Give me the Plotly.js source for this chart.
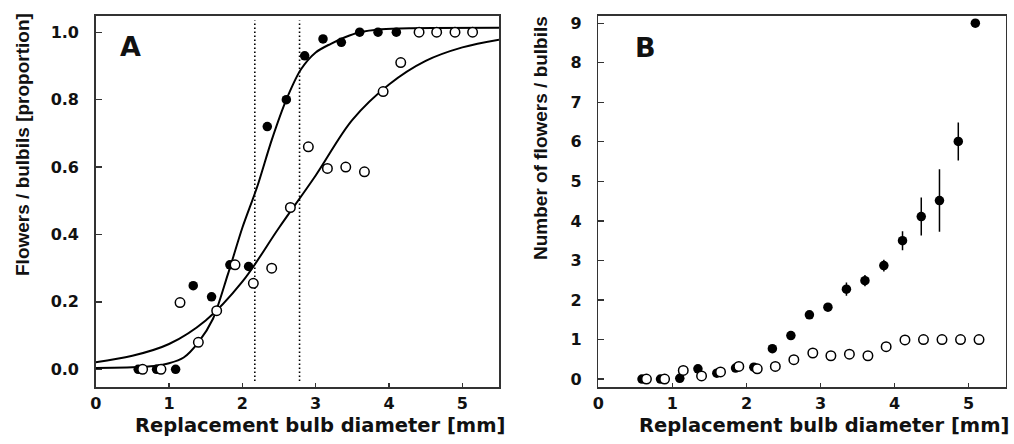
<!DOCTYPE html>
<html>
<head>
<meta charset="utf-8">
<script src="https://cdn.plot.ly/plotly-3.0.1.min.js"></script>
<style>
  html, body { margin: 0; padding: 0; background: #fff; }
  #chart { width: 1014px; height: 444px; }
</style>
</head>
<body>
<div id="chart"></div>
<script>
// ---------- Panel A: proportions ----------
const flowerA_x = [0.58, 0.83, 1.09, 1.33, 1.58, 1.83, 2.085, 2.34, 2.60, 2.85, 3.10, 3.35, 3.60, 3.85, 4.10];
const flowerA_y = [0, 0, 0, 0.248, 0.215, 0.31, 0.305, 0.72, 0.80, 0.93, 0.98, 0.97, 1.0, 1.0, 1.0];
const bulbilA_x = [0.64, 0.89, 1.15, 1.40, 1.65, 1.90, 2.15, 2.40, 2.655, 2.90, 3.16, 3.41, 3.665, 3.92, 4.16, 4.41, 4.65, 4.90, 5.14];
const bulbilA_y = [0, 0, 0.198, 0.08, 0.174, 0.31, 0.255, 0.30, 0.48, 0.66, 0.596, 0.60, 0.586, 0.824, 0.91, 1, 1, 1, 1];

// fitted curves
const fitFlower_x = [0, 0.5, 0.8, 1.0, 1.2, 1.4, 1.6, 1.8, 2.0, 2.2, 2.4, 2.6, 2.8, 3.0, 3.2, 3.4, 3.6, 3.9, 4.3, 5.5];
const fitFlower_y = [0.004, 0.006, 0.01, 0.018, 0.035, 0.08, 0.15, 0.28, 0.42, 0.54, 0.68, 0.80, 0.89, 0.94, 0.965, 0.985, 1.0, 1.009, 1.012, 1.013];
const fitBulbil_x = [0, 0.5, 1.0, 1.5, 2.0, 2.5, 3.0, 3.5, 4.0, 4.5, 5.0, 5.5];
const fitBulbil_y = [0.021, 0.04, 0.075, 0.145, 0.26, 0.42, 0.575, 0.74, 0.845, 0.915, 0.955, 0.978];

// 50% thresholds (dotted lines)
const thresholdsA = [2.17, 2.78];
const thresholdSpanA = [-0.035, 1.035];

// ---------- Panel B: counts ----------
const flowerB_x = [0.59, 0.84, 1.10, 1.345, 1.60, 1.853, 2.10, 2.35, 2.60, 2.85, 3.10, 3.35, 3.60, 3.855, 4.107, 4.36, 4.606, 4.86, 5.09];
const flowerB_y = [0, 0, 0.02, 0.26, 0.15, 0.28, 0.30, 0.77, 1.10, 1.625, 1.82, 2.275, 2.49, 2.87, 3.50, 4.11, 4.515, 6.01, 9.0];
const flowerB_err = [0, 0, 0.05, 0.05, 0.04, 0.05, 0.05, 0.06, 0.07, 0.08, 0.08, 0.17, 0.14, 0.15, 0.24, 0.48, 0.79, 0.48, 0];
const bulbilB_x = [0.65, 0.895, 1.147, 1.394, 1.65, 1.897, 2.146, 2.39, 2.64, 2.896, 3.14, 3.39, 3.64, 3.886, 4.14, 4.39, 4.64, 4.89, 5.14];
const bulbilB_y = [0, 0, 0.22, 0.08, 0.18, 0.32, 0.26, 0.32, 0.49, 0.66, 0.59, 0.63, 0.59, 0.82, 0.99, 1, 1, 1, 1];
const bulbilB_err = [0, 0, 0.1, 0.03, 0.03, 0.03, 0.03, 0.03, 0.04, 0.04, 0.04, 0.04, 0.04, 0.04, 0, 0, 0, 0, 0];

const xTicks = [0, 1, 2, 3, 4, 5];
const yTicksA = [0, 0.2, 0.4, 0.6, 0.8, 1.0];
const yTickTextA = ['0.0', '0.2', '0.4', '0.6', '0.8', '1.0'];
const yTicksB = [0, 1, 2, 3, 4, 5, 6, 7, 8, 9];

const xTitle = 'Replacement bulb diameter [mm]';
const yTitleA = 'Flowers / bulbils [proportion]';
const yTitleB = 'Number of flowers / bulbils';

// ---------- traces ----------
const W = 1014, H = 444;
const filledMarker = { symbol: 'circle', size: 9.5, color: '#000', line: { width: 0 } };
const openMarker = { symbol: 'circle', size: 9.5, color: '#fff', line: { width: 1.5, color: '#000' } };

const traces = [];
thresholdsA.forEach(t => {
  traces.push({
    x: [t, t], y: thresholdSpanA, xaxis: 'x', yaxis: 'y', mode: 'lines',
    line: { color: '#000', width: 1.6, dash: '1.5px,2.5px' }, hoverinfo: 'skip', showlegend: false
  });
});
traces.push({
  x: fitBulbil_x, y: fitBulbil_y, xaxis: 'x', yaxis: 'y', mode: 'lines',
  line: { color: '#000', width: 2, shape: 'spline', smoothing: 1 }, showlegend: false
});
traces.push({
  x: fitFlower_x, y: fitFlower_y, xaxis: 'x', yaxis: 'y', mode: 'lines',
  line: { color: '#000', width: 2, shape: 'spline', smoothing: 0.8 }, showlegend: false
});
traces.push({ x: flowerA_x, y: flowerA_y, xaxis: 'x', yaxis: 'y', mode: 'markers', marker: filledMarker, showlegend: false });
traces.push({ x: bulbilA_x, y: bulbilA_y, xaxis: 'x', yaxis: 'y', mode: 'markers', marker: openMarker, showlegend: false });

traces.push({
  x: flowerB_x, y: flowerB_y, xaxis: 'x2', yaxis: 'y2', mode: 'markers', marker: filledMarker, showlegend: false,
  error_y: { type: 'data', array: flowerB_err, visible: true, color: '#000', thickness: 1.5, width: 0 }
});
traces.push({
  x: bulbilB_x, y: bulbilB_y, xaxis: 'x2', yaxis: 'y2', mode: 'markers', marker: openMarker, showlegend: false,
  error_y: { type: 'data', array: bulbilB_err, visible: true, color: '#000', thickness: 1.2, width: 0 }
});

// ---------- layout ----------
const tickFont = { family: 'DejaVu Sans', size: 16, color: '#111', weight: 'bold' };
function xAxis(domain, anchor) {
  return {
    domain: domain, anchor: anchor, range: [0, 5.5], tickvals: xTicks, ticks: 'inside', ticklen: 4,
    tickwidth: 1.3, tickcolor: '#333', showline: true, linecolor: '#333', linewidth: 1.5, mirror: true,
    showgrid: false, zeroline: false, tickfont: tickFont, ticklabelstandoff: 1, fixedrange: true
  };
}
function yAxis(domain, anchor, range, vals, text) {
  const a = {
    domain: domain, anchor: anchor, range: range, tickvals: vals, ticks: 'inside', ticklen: 6,
    tickwidth: 1.3, tickcolor: '#333', showline: true, linecolor: '#333', linewidth: 1.5, mirror: true,
    showgrid: false, zeroline: false, tickfont: tickFont, ticklabelstandoff: 12, fixedrange: true
  };
  if (text) a.ticktext = text;
  return a;
}

const px = v => v / W;
const py = v => 1 - v / H;
const yDom = [py(387), py(15.7)];

const layout = {
  width: W, height: H,
  margin: { l: 0, r: 0, t: 0, b: 0, pad: 0 },
  paper_bgcolor: '#fff', plot_bgcolor: '#fff',
  showlegend: false,
  xaxis: xAxis([px(95.7), px(499)], 'y'),
  yaxis: yAxis(yDom, 'x', [-0.0525, 1.049], yTicksA, yTickTextA),
  xaxis2: xAxis([px(598.3), px(1005.7)], 'y2'),
  yaxis2: yAxis(yDom, 'x2', [-0.2, 9.19], yTicksB),
  annotations: [
    { text: '<b>A</b>', xref: 'paper', yref: 'paper', x: px(130.5), y: py(46.5), xanchor: 'center', yanchor: 'middle',
      showarrow: false, font: { family: 'DejaVu Sans', size: 27, color: '#111' } },
    { text: '<b>B</b>', xref: 'paper', yref: 'paper', x: px(645), y: py(47), xanchor: 'center', yanchor: 'middle',
      showarrow: false, font: { family: 'DejaVu Sans', size: 27, color: '#111' } },
    { text: '<b>' + xTitle + '</b>', xref: 'paper', yref: 'paper', x: px(319.5), y: py(425), xanchor: 'center', yanchor: 'middle',
      showarrow: false, font: { family: 'DejaVu Sans', size: 19.5, color: '#111' } },
    { text: '<b>' + xTitle + '</b>', xref: 'paper', yref: 'paper', x: px(824), y: py(425), xanchor: 'center', yanchor: 'middle',
      showarrow: false, font: { family: 'DejaVu Sans', size: 19.5, color: '#111' } },
    { text: '<b>' + yTitleA + '</b>', xref: 'paper', yref: 'paper', x: px(22), y: py(145), xanchor: 'center', yanchor: 'middle',
      textangle: -90, showarrow: false, font: { family: 'Liberation Sans', size: 19, color: '#111' } },
    { text: '<b>' + yTitleB + '</b>', xref: 'paper', yref: 'paper', x: px(541), y: py(138), xanchor: 'center', yanchor: 'middle',
      textangle: -90, showarrow: false, font: { family: 'Liberation Sans', size: 19, color: '#111' } }
  ]
};

Plotly.newPlot('chart', traces, layout, { staticPlot: true, displayModeBar: false });
</script>
</body>
</html>
